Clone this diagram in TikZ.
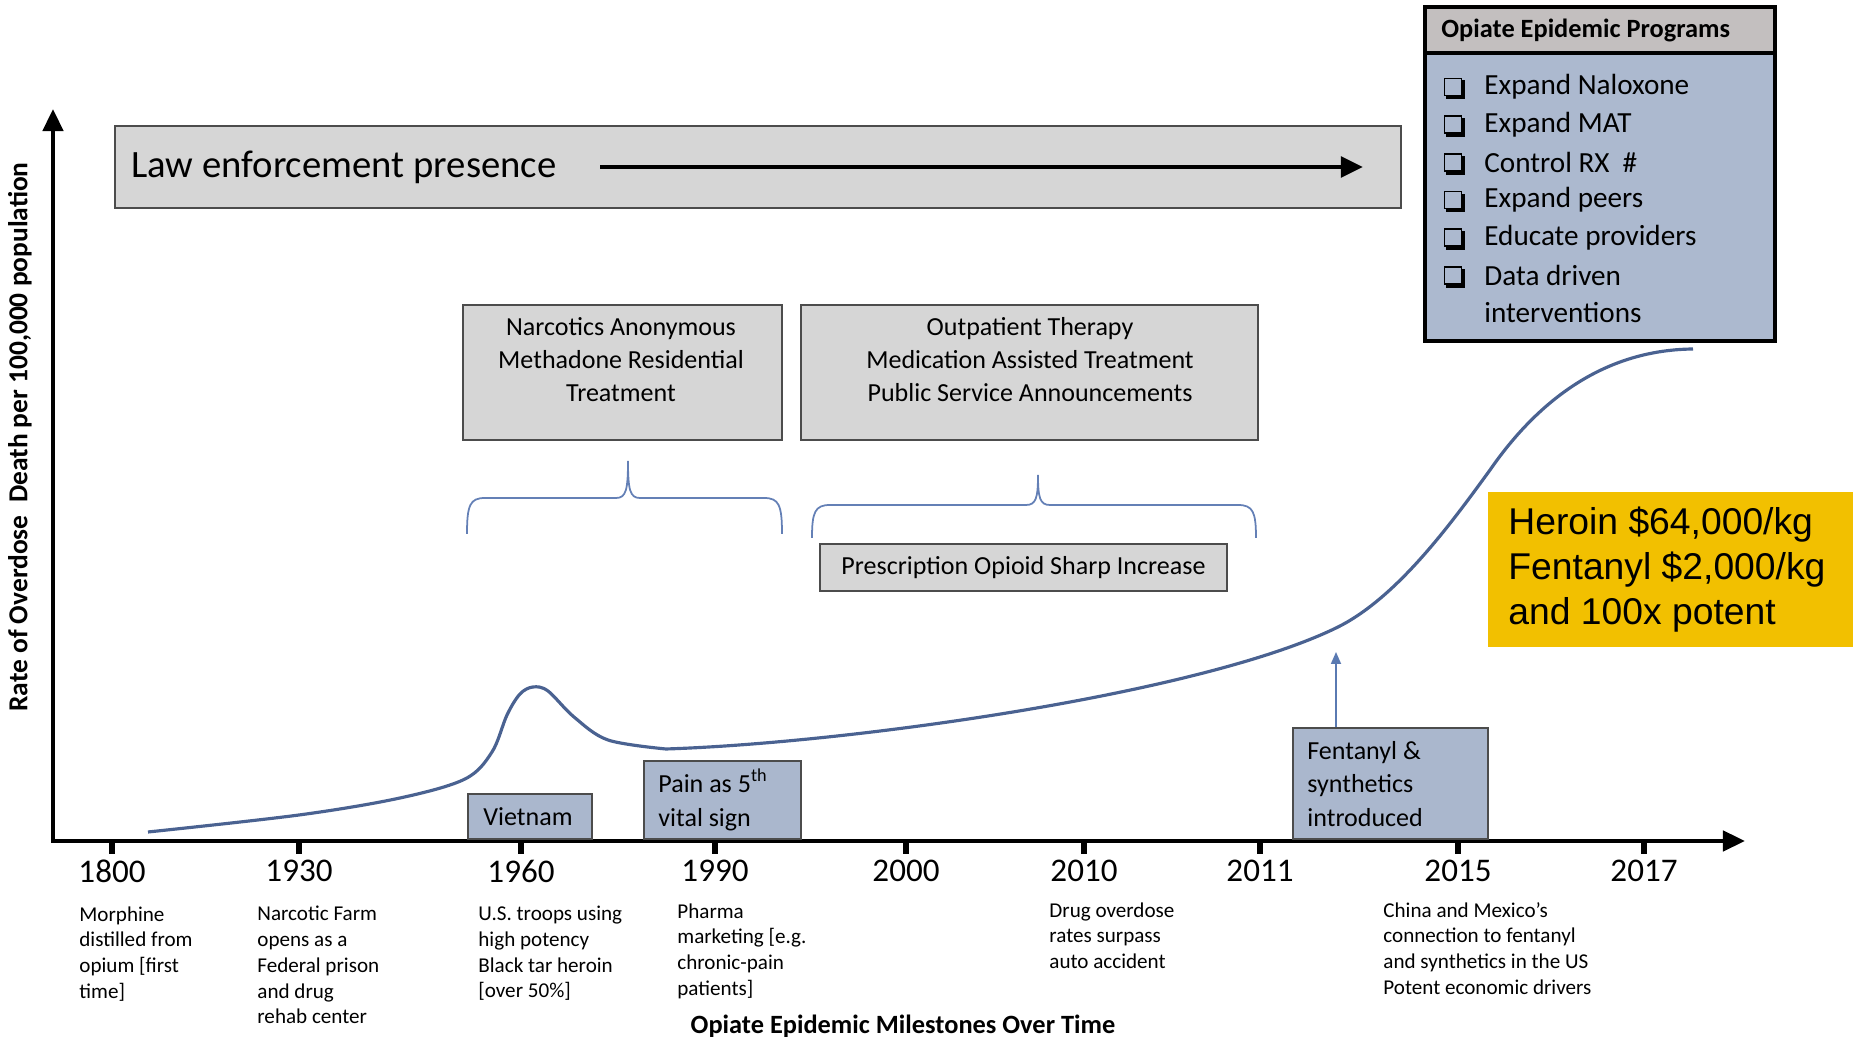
\documentclass[tikz,border=0pt]{standalone}
\usepackage{fontspec}
\setmainfont{Carlito}
\newfontfamily\arialfont{Liberation Sans}
\usetikzlibrary{arrows.meta}
\definecolor{boxgray}{RGB}{214,214,214}
\definecolor{headgray}{RGB}{195,191,191}
\definecolor{bluegray}{RGB}{170,183,205}
\definecolor{bodyblue}{RGB}{172,185,207}
\definecolor{curveblue}{RGB}{74,98,145}
\definecolor{braceblue}{RGB}{100,128,182}
\definecolor{arrowblue}{RGB}{90,122,178}
\definecolor{gold}{RGB}{242,192,0}

\begin{document}
\begin{tikzpicture}[x=0.01cm,y=-0.01cm,thick,
    grey box/.style={draw=black!70,fill=boxgray,line width=0.6pt,inner sep=0},
    blue box/.style={draw=black!70,fill=bluegray,line width=0.6pt,inner sep=0},
    box text/.style={inner sep=0,align=center,font=\fontsize{7.4}{9.4}\selectfont},
    left text/.style={inner sep=0,align=left,anchor=west,font=\fontsize{7.4}{9.6}\selectfont},
    note text/.style={inner sep=0,align=left,anchor=north west,font=\fontsize{6}{7.3}\selectfont},
    year node/.style={inner sep=0,font=\fontsize{9.4}{11}\selectfont},
    list text/.style={inner sep=0,anchor=west,font=\fontsize{8.3}{10}\selectfont},
    check box/.style={draw,line width=0.5pt,minimum size=0.17cm,inner sep=0},
    big arrow/.style={line width=1.4pt,-{Triangle[length=0.22cm,width=0.2cm]}},
    brace line/.style={draw=braceblue,line width=0.5pt},
    curve line/.style={draw=curveblue,line width=0.9pt}]
  \useasboundingbox (0,0) rectangle (1853,1037);

  \node [grey box, minimum width=12.86cm, minimum height=0.82cm] (law) at (758,167) {};
  \node [inner sep=0, anchor=west, font=\fontsize{11}{13}\selectfont] (lawtext) at (130,167) {Law enforcement presence};
  \coordinate (law start) at (600,167);
  \coordinate (law end) at (1363,167);
  \draw [big arrow] (law start) -- (law end);

  \coordinate (origin) at (53,841);
  \coordinate (y top) at (53,109);
  \coordinate (x end) at (1745,841);
  \draw [line width=1.3pt, line join=miter, {Triangle[length=0.22cm,width=0.2cm]}-{Triangle[length=0.22cm,width=0.2cm]}] (y top) -- (origin) -- (x end);
  \foreach \x/\yr in {112/1800,299/1930,521/1960,715/1990,906/2000,1084/2010,1260/2011,1458/2015,1644/2017} {
    \draw [line width=1.7pt] (\x,841) -- (\x,854);
    \node [year node] (y\yr) at (\x,871) {\yr};
  }

  \draw [curve line] plot [smooth, tension=0.55] coordinates {(148,832) (299,815) (400,798) (465,779) (492,752) (507,715) (520,694) (533,687) (548,691) (574,717) (608,740) (666,749)}
    .. controls (850,743) and (1200,694) .. (1336,628)
    .. controls (1396,599) and (1450,525) .. (1490,470)
    .. controls (1535,405) and (1600,350) .. (1693,349);

  \node [grey box, minimum width=3.19cm, minimum height=1.35cm] (narc) at (622.5,372.5) {};
  \node [box text] (narctext) at (621,360) {Narcotics Anonymous\\Methadone Residential\\Treatment};
  \node [grey box, minimum width=4.57cm, minimum height=1.35cm] (outp) at (1029.5,372.5) {};
  \node [box text] (outptext) at (1030,360) {Outpatient Therapy\\Medication Assisted Treatment\\Public Service Announcements};
  \node [grey box, box text, minimum width=4.07cm, minimum height=0.47cm] (presc) at (1023.5,567.5) {Prescription Opioid Sharp Increase};

  \draw [brace line] (467,534) .. controls (467,505) and (470,498) .. (485,498) -- (616,498) .. controls (626,498) and (628,490) .. (628,461) .. controls (628,490) and (630,498) .. (640,498) -- (764,498) .. controls (779,498) and (782,505) .. (782,534);
  \draw [brace line] (812,538) .. controls (812,512) and (815,505) .. (830,505) -- (1026,505) .. controls (1036,505) and (1038,498) .. (1038,475) .. controls (1038,498) and (1040,505) .. (1050,505) -- (1238,505) .. controls (1253,505) and (1256,512) .. (1256,538);

  \node [blue box, minimum width=1.24cm, minimum height=0.45cm] (viet) at (530,816.5) {};
  \node [left text] (viettext) at (482,817) {Vietnam};
  \node [blue box, minimum width=1.57cm, minimum height=0.78cm] (pain) at (722.5,800) {};
  \node [left text] (paintext) at (657,800) {Pain as 5\textsuperscript{th}\\vital sign};
  \node [blue box, minimum width=1.95cm, minimum height=1.11cm] (fent) at (1390.5,783.5) {};
  \node [left text] (fenttext) at (1306,784) {Fentanyl \&\\synthetics\\introduced};
  \coordinate (fent tip) at (1336,652);
  \draw [draw=arrowblue, line width=0.5pt, -{Triangle[length=0.12cm,width=0.1cm]}] (fent.north -| fent tip) -- (fent tip);

  \node [fill=gold, minimum width=3.65cm, minimum height=1.55cm, inner sep=0] (price) at (1670.5,569.5) {};
  \node [inner sep=0, anchor=west, align=left, font={\arialfont\fontsize{10.6}{12.8}\selectfont}] (pricetext) at (1507,570) {Heroin \$64,000/kg\\Fentanyl \$2,000/kg\\and 100x potent};

  \node [draw, line width=1.2pt, fill=bodyblue, minimum width=3.5cm, minimum height=2.88cm, inner sep=0] (prog) at (1600,197) {};
  \node [draw, line width=1.2pt, fill=headgray, minimum width=3.5cm, minimum height=0.46cm, inner sep=0] (proghead) at (1600,30) {};
  \node [inner sep=0, anchor=west, font=\bfseries\fontsize{7.5}{9}\selectfont] (progtitle) at (1440,30) {Opiate Epidemic Programs};
  \foreach \i/\entry in {0/Expand Naloxone,1/Expand MAT,2/Control RX~~\#,3/Expand peers,4/Educate providers,5/Data driven} {
    \node [check box] (c\i) at (1453,87+37.7*\i) {};
    \draw [line width=0.8pt] ([shift={(0.8pt,-0.4pt)}]c\i.south west) -- ([shift={(0.4pt,-0.4pt)}]c\i.south east) -- ([shift={(0.4pt,-0.8pt)}]c\i.north east);
    \node [list text] (p\i) at (1483,87+37.7*\i) {\entry};
  }
  \node [list text] (p6) at (1483,313) {interventions};

  \node [rotate=90, inner sep=0, font=\bfseries\fontsize{7.8}{9}\selectfont] (ylabel) at (20,437) {Rate of Overdose~~Death per 100,000 population};

  \node [note text] (n1800) at (78,905) {Morphine\\distilled from\\opium [first\\time]};
  \node [note text] (n1930) at (256,905) {Narcotic Farm\\opens as a\\Federal prison\\and drug\\rehab center};
  \node [note text] (n1960) at (477,905) {U.S. troops using\\high potency\\Black tar heroin\\{[over 50\%]}};
  \node [note text] (n1990) at (676,902) {Pharma\\marketing [e.g.\\chronic-pain\\patients]};
  \node [note text] (n2010) at (1048,901) {Drug overdose\\rates surpass\\auto accident};
  \node [note text] (n2015) at (1382,901) {China and Mexico's\\connection to fentanyl\\and synthetics in the US\\Potent economic drivers};

  \node [inner sep=0, font=\bfseries\fontsize{7.5}{9}\selectfont] (title) at (903,1026) {Opiate Epidemic Milestones Over Time};
\end{tikzpicture}
\end{document}
